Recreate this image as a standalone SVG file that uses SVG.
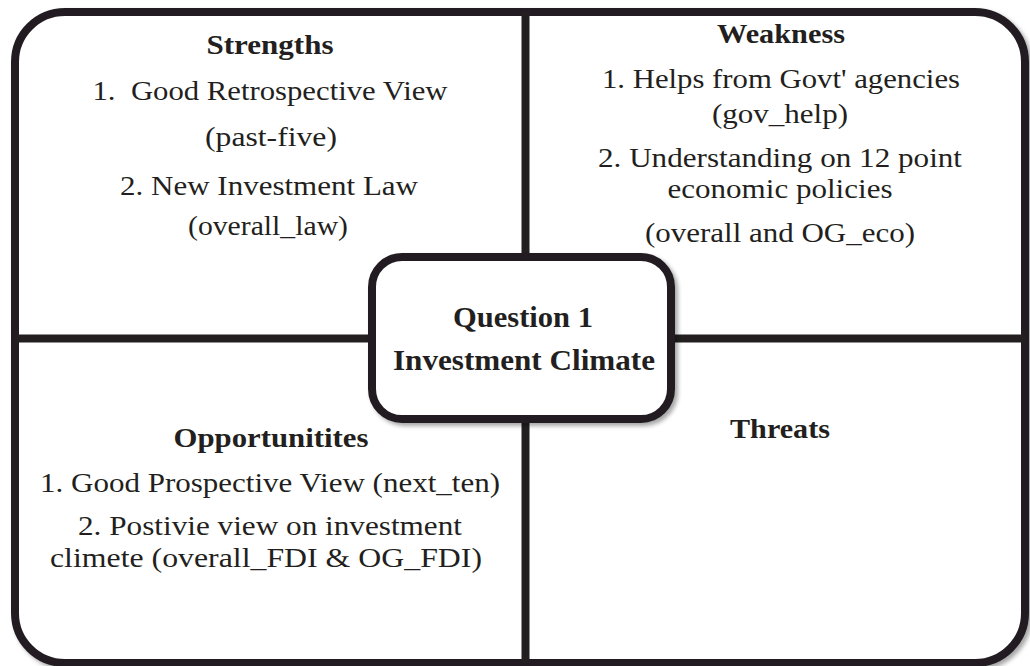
<svg xmlns="http://www.w3.org/2000/svg" width="1030" height="666" viewBox="0 0 1030 666">
  <style>
    .frame { fill: #ffffff; stroke: #231f20; stroke-width: 8; }
    .divider { stroke: #231f20; stroke-width: 8; fill: none; }
    .t { font-family: "Liberation Serif", "Times New Roman", serif; font-size: 28px; fill: #231f20; text-anchor: middle; }
    .h { font-weight: bold; font-size: 28px; }
    .q { font-size: 30px; }
  </style>
  <defs>
    <filter id="shadow" x="-5%" y="-5%" width="112%" height="115%">
      <feDropShadow dx="3" dy="3" stdDeviation="2" flood-color="#000000" flood-opacity="0.35"/>
    </filter>
  </defs>

  <!-- outer rounded frame -->
  <rect class="frame" x="15" y="12" width="1010" height="651" rx="50" filter="url(#shadow)"/>

  <!-- quadrant dividers -->
  <g id="connectors">
    <line class="divider" x1="525.5" y1="12" x2="525.5" y2="663"/>
    <line class="divider" x1="15" y1="338.5" x2="1025" y2="338.5"/>
  </g>

  <g id="strengths">
    <text class="t h" x="270" y="54" textLength="127" lengthAdjust="spacingAndGlyphs">Strengths</text>
    <text class="t" x="270" y="100" xml:space="preserve" textLength="355" lengthAdjust="spacingAndGlyphs">1.  Good Retrospective View</text>
    <text class="t" x="271" y="146" textLength="132" lengthAdjust="spacingAndGlyphs">(past-five)</text>
    <text class="t" x="269" y="195" textLength="298" lengthAdjust="spacingAndGlyphs">2. New Investment Law</text>
    <text class="t" x="268" y="235" textLength="160" lengthAdjust="spacingAndGlyphs">(overall_law)</text>
  </g>

  <g id="weakness">
    <text class="t h" x="781" y="43" textLength="128" lengthAdjust="spacingAndGlyphs">Weakness</text>
    <text class="t" x="781" y="88" textLength="358" lengthAdjust="spacingAndGlyphs">1. Helps from Govt' agencies</text>
    <text class="t" x="780" y="123" textLength="136" lengthAdjust="spacingAndGlyphs">(gov_help)</text>
    <text class="t" x="780" y="167" textLength="364" lengthAdjust="spacingAndGlyphs">2. Understanding on 12 point</text>
    <text class="t" x="780" y="198" textLength="225" lengthAdjust="spacingAndGlyphs">economic policies</text>
    <text class="t" x="780" y="242" textLength="270" lengthAdjust="spacingAndGlyphs">(overall and OG_eco)</text>
  </g>

  <g id="opportunities">
    <text class="t h" x="271" y="447" textLength="195" lengthAdjust="spacingAndGlyphs">Opportunitites</text>
    <text class="t" x="270" y="492" textLength="460" lengthAdjust="spacingAndGlyphs">1. Good Prospective View (next_ten)</text>
    <text class="t" x="270" y="535" textLength="384" lengthAdjust="spacingAndGlyphs">2. Postivie view on investment</text>
    <text class="t" x="266" y="567" textLength="432" lengthAdjust="spacingAndGlyphs">climete (overall_FDI &amp; OG_FDI)</text>
  </g>

  <g id="threats">
    <text class="t h" x="780" y="438" textLength="100" lengthAdjust="spacingAndGlyphs">Threats</text>
  </g>

  <g id="question">
    <rect class="frame" x="372" y="257" width="299" height="162" rx="30" filter="url(#shadow)"/>
    <text class="t h q" x="523" y="327" textLength="140" lengthAdjust="spacingAndGlyphs">Question 1</text>
    <text class="t h q" x="524" y="370" textLength="262" lengthAdjust="spacingAndGlyphs">Investment Climate</text>
  </g>
</svg>
